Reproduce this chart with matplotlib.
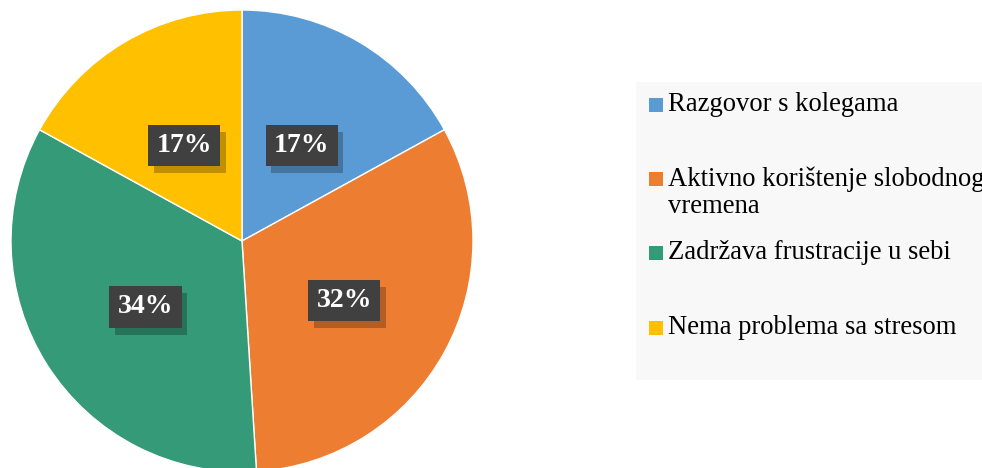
import matplotlib.pyplot as plt
import matplotlib.patheffects as pe
import matplotlib.transforms as mtransforms
from matplotlib.patches import Rectangle

kategorije = ['Razgovor s kolegama', 'Aktivno korištenje slobodnog\nvremena',
              'Zadržava frustracije u sebi', 'Nema problema sa stresom']
postotci = [17, 32, 34, 17]
boje = ['#5B9BD5', '#ED7D31', '#359A77', '#FFC000']

plt.rcParams['font.family'] = ['Liberation Serif', 'DejaVu Serif']

fig = plt.figure(figsize=(9.82, 4.68), dpi=100)
W, H = 982, 468
cx, cy, r = 242, 241, 231
ax = fig.add_axes([(cx - r) / W, (H - cy - r) / H, 2 * r / W, 2 * r / H])

wedges, _, autotexts = ax.pie(postotci, colors=boje, startangle=90, counterclock=False,
                               radius=1, autopct=lambda p: '%d%%' % round(p), pctdistance=0.5,
                               wedgeprops=dict(edgecolor='white', linewidth=1),
                               textprops=dict(color='white', fontsize=20, fontweight='bold'))
ax.set_xlim(-1, 1)
ax.set_ylim(-1, 1)
ax.axis('off')
pomak = mtransforms.offset_copy(ax.transData, fig=fig, x=1, y=-4, units='dots')
for t in autotexts:
    t.set_transform(pomak)
    t.set_bbox(dict(boxstyle='square,pad=0.3', facecolor='#404040', edgecolor='none'))
    t.get_bbox_patch().set_path_effects([pe.SimplePatchShadow(offset=(4, -5), shadow_rgbFace='black', alpha=0.25),
                                         pe.Normal()])

# legenda
fig.patches.append(Rectangle((636 / W, 1 - 380 / H), (W - 636) / W, (380 - 82) / H,
                             transform=fig.transFigure, facecolor='#F8F8F8', edgecolor='none', zorder=0))
y_mjesta = [105, 179, 253, 328]
for naziv, boja, y in zip(kategorije, boje, y_mjesta):
    fig.patches.append(Rectangle((649 / W, 1 - (y + 7) / H), 14 / W, 14 / H,
                                 transform=fig.transFigure, facecolor=boja, edgecolor='none'))
    fig.text(668 / W, 1 - (y - 13) / H, naziv, fontsize=19.2, color='black',
             va='top', ha='left', linespacing=1.12)

fig.savefig('out.png', dpi=100)
